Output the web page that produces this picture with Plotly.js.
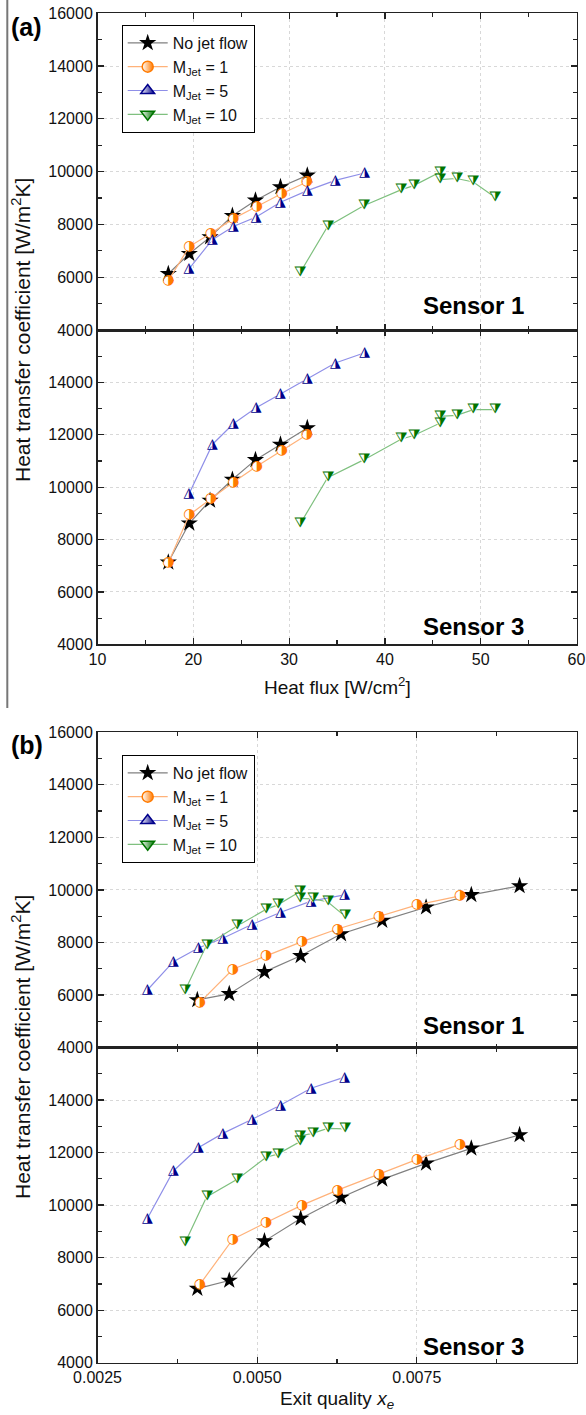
<!DOCTYPE html>
<html>
<head>
<meta charset="utf-8">
<script src="https://cdn.plot.ly/plotly-3.0.1.min.js"></script>
<style>html,body{margin:0;padding:0;background:#fff;}#chart{width:586px;height:1415px;}</style>
</head>
<body>
<div id="chart"></div>
<script>
// ---------------- DATA ----------------
// Panel (a): heat flux [W/cm2]
const qA_nojet = [17.39, 19.58, 21.75, 24.08, 26.49, 29.10, 31.90];
const hA1_nojet = [6130, 6890, 7520, 8330, 8910, 9420, 9860];
const hA3_nojet = [7130, 8620, 9490, 10290, 11040, 11630, 12260];

const qA_m1 = [17.39, 19.58, 21.82, 24.18, 26.63, 29.25, 31.86];
const hA1_m1 = [5870, 7160, 7660, 8220, 8680, 9170, 9610];
const hA3_m1 = [7110, 8940, 9550, 10190, 10800, 11400, 12000];

const qA_m5 = [19.55, 21.99, 24.18, 26.56, 29.10, 31.90, 34.82, 37.89];
const hA1_m5 = [6320, 7420, 7920, 8280, 8840, 9280, 9670, 9950];
const hA3_m5 = [9740, 11630, 12420, 13030, 13560, 14130, 14740, 15130];

const qA_m10 = [31.16, 34.02, 37.78, 41.73, 43.01, 45.73, 45.73, 47.48, 49.23, 51.49];
const hA1_m10 = [6180, 7920, 8710, 9320, 9470, 9980, 9700, 9740, 9610, 9030];
const hA3_m10 = [8600, 10360, 11040, 11840, 11970, 12440, 12700, 12740, 12960, 12960];

// Panel (b): exit quality x_e
const xB_nojet = [0.004063, 0.004563, 0.005114, 0.005681, 0.006313, 0.006958, 0.007645, 0.008353, 0.009109];
const hB1_nojet = [5810, 6040, 6880, 7490, 8320, 8830, 9340, 9810, 10150];
const hB3_nojet = [6820, 7130, 8630, 9490, 10290, 10980, 11590, 12160, 12670];

const xB_m1 = [0.004103, 0.004619, 0.005141, 0.005703, 0.006259, 0.006911, 0.007505, 0.008177];
const hB1_m1 = [5720, 6980, 7490, 8030, 8510, 8980, 9430, 9770];
const hB3_m1 = [6980, 8700, 9340, 10000, 10570, 11170, 11740, 12310];

const xB_m5 = [0.003281, 0.003688, 0.004078, 0.004463, 0.004922, 0.005369, 0.005844, 0.006369];
const hB1_m5 = [6190, 7270, 7790, 8160, 8690, 9150, 9570, 9810];
const hB3_m5 = [9490, 11300, 12180, 12730, 13270, 13810, 14450, 14870];

const xB_m10 = [0.003869, 0.004208, 0.004688, 0.005141, 0.005322, 0.005666, 0.005666, 0.005869, 0.006103, 0.006369];
const hB1_m10 = [6160, 7900, 8630, 9260, 9430, 9930, 9680, 9660, 9550, 9010];
const hB3_m10 = [8560, 10310, 10980, 11820, 11940, 12410, 12630, 12730, 12920, 12900];

const seriesNames = ['No jet flow', 'M<sub>Jet</sub> = 1', 'M<sub>Jet</sub> = 5', 'M<sub>Jet</sub> = 10'];
const sensorLabels = ['Sensor 1', 'Sensor 3'];
const yTicksTop = [4000, 6000, 8000, 10000, 12000, 14000, 16000];
const yTicksBottom = [4000, 6000, 8000, 10000, 12000, 14000];

// ---------------- STYLES ----------------
const FONT = 'Liberation Sans, Arial, sans-serif';
// Half-filled plot markers: DejaVu Sans glyphs (◑ ◮ ⧩) over a white backing marker.
// Legend symbols: marker with a horizontal white->colour gradient.
const styles = [
  {line: '#808080', marker: {symbol: 'star', size: 13, color: '#000', line: {width: 0}}},
  {line: '#ffb27a', color: '#ff7a00', sym: 'circle', legSize: 11, back: 9, glyph: '\u25D1'},
  {line: '#8f8fe8', color: '#00008b', sym: 'triangle-up', legSize: 12, back: 8, glyph: '\u25EE'},
  {line: '#7fc07f', color: '#007400', sym: 'triangle-down', legSize: 12, back: 8, glyph: '\u29E9'}
];

const traces = [];
function legendEntry(idx, xa, ya, legendName) {
  const st = styles[idx];
  traces.push({
    x: [null], y: [null], xaxis: xa, yaxis: ya, type: 'scatter', mode: 'lines+markers',
    name: seriesNames[idx], line: {color: st.line, width: 1.2},
    marker: {symbol: st.sym, size: st.legSize, color: '#fff',
      gradient: {type: 'horizontal', color: st.color}, line: {color: st.color, width: 1.5}},
    showlegend: true, legend: legendName, hoverinfo: 'skip'
  });
}
function addSeries(xs, ys, idx, xa, ya, legendName) {
  const st = styles[idx];
  if (!st.glyph) {
    traces.push({
      x: xs, y: ys, xaxis: xa, yaxis: ya, type: 'scatter', mode: 'lines+markers',
      name: seriesNames[idx], line: {color: st.line, width: 1.2}, marker: st.marker,
      showlegend: !!legendName, legend: legendName || 'legend', cliponaxis: false, hoverinfo: 'skip'
    });
    return;
  }
  traces.push({
    x: xs, y: ys, xaxis: xa, yaxis: ya, type: 'scatter', mode: 'lines',
    name: seriesNames[idx], line: {color: st.line, width: 1.2},
    showlegend: false, cliponaxis: false, hoverinfo: 'skip'
  });
  traces.push({
    x: xs, y: ys, xaxis: xa, yaxis: ya, type: 'scatter', mode: 'markers',
    marker: {symbol: st.sym, size: st.back, color: '#fff', line: {width: 0}},
    showlegend: false, cliponaxis: false, hoverinfo: 'skip'
  });
  traces.push({
    x: xs, y: ys, xaxis: xa, yaxis: ya, type: 'scatter', mode: 'text',
    text: xs.map(() => st.glyph), textposition: 'middle center',
    textfont: {family: 'DejaVu Sans', size: 14, color: st.color},
    showlegend: false, cliponaxis: false, hoverinfo: 'skip'
  });
}
// panel (a) sensor 1 -> x2/y ; sensor 3 -> x/y2
addSeries(qA_nojet, hA1_nojet, 0, 'x2', 'y', 'legend');
legendEntry(1, 'x2', 'y', 'legend');
legendEntry(2, 'x2', 'y', 'legend');
legendEntry(3, 'x2', 'y', 'legend');
addSeries(qA_m1, hA1_m1, 1, 'x2', 'y');
addSeries(qA_m5, hA1_m5, 2, 'x2', 'y');
addSeries(qA_m10, hA1_m10, 3, 'x2', 'y');
addSeries(qA_nojet, hA3_nojet, 0, 'x', 'y2');
addSeries(qA_m1, hA3_m1, 1, 'x', 'y2');
addSeries(qA_m5, hA3_m5, 2, 'x', 'y2');
addSeries(qA_m10, hA3_m10, 3, 'x', 'y2');
// panel (b) sensor 1 -> x4/y3 ; sensor 3 -> x3/y4
addSeries(xB_nojet, hB1_nojet, 0, 'x4', 'y3', 'legend2');
legendEntry(1, 'x4', 'y3', 'legend2');
legendEntry(2, 'x4', 'y3', 'legend2');
legendEntry(3, 'x4', 'y3', 'legend2');
addSeries(xB_m1, hB1_m1, 1, 'x4', 'y3');
addSeries(xB_m5, hB1_m5, 2, 'x4', 'y3');
addSeries(xB_m10, hB1_m10, 3, 'x4', 'y3');
addSeries(xB_nojet, hB3_nojet, 0, 'x3', 'y4');
addSeries(xB_m1, hB3_m1, 1, 'x3', 'y4');
addSeries(xB_m5, hB3_m5, 2, 'x3', 'y4');
addSeries(xB_m10, hB3_m10, 3, 'x3', 'y4');

// ---------------- LAYOUT ----------------
const W = 586, H = 1415;
const px = v => v / W;
const py = v => 1 - v / H;
const xDom = [px(97.5), px(576.5)];

const axisBase = {
  showline: true, linecolor: '#222', linewidth: 1.5, mirror: 'ticks',
  ticks: 'inside', ticklen: 6, tickcolor: '#222', tickwidth: 1.2,
  showgrid: true, gridcolor: '#d8d8d8', griddash: 'dot', gridwidth: 1,
  zeroline: false, tickfont: {family: FONT, size: 16, color: '#111'}
};
function yAx(dom, anchor, vals) {
  return Object.assign({}, axisBase, {
    domain: dom, anchor: anchor, range: [4000, 16000], tickmode: 'array', tickvals: vals,
    ticktext: vals.map(String),
    minor: {dtick: 1000, tick0: 0, ticks: 'inside', ticklen: 4, tickcolor: '#222', showgrid: false}
  });
}
function xAxA(anchor, labels) {
  return Object.assign({}, axisBase, {
    domain: xDom, anchor: anchor, range: [10, 60], dtick: 10, tick0: 10, showticklabels: labels,
    minor: {dtick: 5, tick0: 0, ticks: 'inside', ticklen: 4, tickcolor: '#222', showgrid: false}
  });
}
function xAxB(anchor, labels) {
  return Object.assign({}, axisBase, {
    domain: xDom, anchor: anchor, range: [0.0025, 0.01], dtick: 0.0025, tick0: 0.0025,
    tickformat: '.4f', showticklabels: labels,
    minor: {dtick: 0.00125, tick0: 0.0025, ticks: 'inside', ticklen: 4, tickcolor: '#222', showgrid: false}
  });
}

const legendBase = {
  xanchor: 'left', yanchor: 'top', bgcolor: '#fff', bordercolor: '#000', borderwidth: 1,
  font: {family: FONT, size: 16, color: '#111'}, itemwidth: 40, tracegroupgap: 0
};

const annotations = [];
function ann(text, x, y, opts) {
  annotations.push(Object.assign({text: text, x: x, y: y, xref: 'paper', yref: 'paper', showarrow: false,
    font: {family: FONT, size: 16, color: '#000'}}, opts));
}
ann('<b>(a)</b>', px(9), py(27), {xanchor: 'left', yanchor: 'middle', font: {family: FONT, size: 25, color: '#000'}});
ann('<b>(b)</b>', px(9), py(745), {xanchor: 'left', yanchor: 'middle', font: {family: FONT, size: 25, color: '#000'}});
ann('<b>' + sensorLabels[0] + '</b>', px(526), py(306), {xanchor: 'right', yanchor: 'middle', font: {family: FONT, size: 24, color: '#000'}});
ann('<b>' + sensorLabels[1] + '</b>', px(526), py(627), {xanchor: 'right', yanchor: 'middle', font: {family: FONT, size: 24, color: '#000'}});
ann('<b>' + sensorLabels[0] + '</b>', px(526), py(1025), {xanchor: 'right', yanchor: 'middle', font: {family: FONT, size: 24, color: '#000'}});
ann('<b>' + sensorLabels[1] + '</b>', px(526), py(1346), {xanchor: 'right', yanchor: 'middle', font: {family: FONT, size: 24, color: '#000'}});
const yTitle = 'Heat transfer coefficient [W/m<sup>2</sup>K]';
ann(yTitle, px(21), py(330), {xanchor: 'center', yanchor: 'middle', textangle: -90, font: {family: FONT, size: 21, color: '#111'}});
ann(yTitle, px(21), py(1047), {xanchor: 'center', yanchor: 'middle', textangle: -90, font: {family: FONT, size: 21, color: '#111'}});
ann('Heat flux [W/cm<sup>2</sup>]', px(337), py(686), {xanchor: 'center', yanchor: 'middle', font: {family: FONT, size: 19, color: '#111'}});
ann('Exit quality <i>x</i><sub><i>e</i></sub>', px(337), py(1400), {xanchor: 'center', yanchor: 'middle', font: {family: FONT, size: 19, color: '#111'}});

const layout = {
  width: W, height: H, margin: {l: 0, r: 0, t: 0, b: 0}, paper_bgcolor: '#fff', plot_bgcolor: '#fff',
  font: {family: FONT, color: '#111'},
  xaxis: xAxA('y2', true),
  xaxis2: xAxA('y', false),
  xaxis3: xAxB('y4', true),
  xaxis4: xAxB('y3', false),
  yaxis: yAx([py(330), py(13.3)], 'x2', yTicksTop),
  yaxis2: yAx([py(644.3), py(330)], 'x', yTicksBottom),
  yaxis3: yAx([py(1047.5), py(732.3)], 'x4', yTicksTop),
  yaxis4: yAx([py(1362.7), py(1047.5)], 'x3', yTicksBottom),
  legend: Object.assign({}, legendBase, {x: px(121.7), y: py(25)}),
  legend2: Object.assign({}, legendBase, {x: px(121.7), y: py(755)}),
  annotations: annotations,
  shapes: [{type: 'line', xref: 'paper', yref: 'paper', x0: px(7.3), x1: px(7.3), y0: py(708), y1: 1,
            line: {color: '#777', width: 2}}],
  showlegend: true
};

Plotly.newPlot('chart', traces, layout, {staticPlot: true, displayModeBar: false});
</script>
</body>
</html>
